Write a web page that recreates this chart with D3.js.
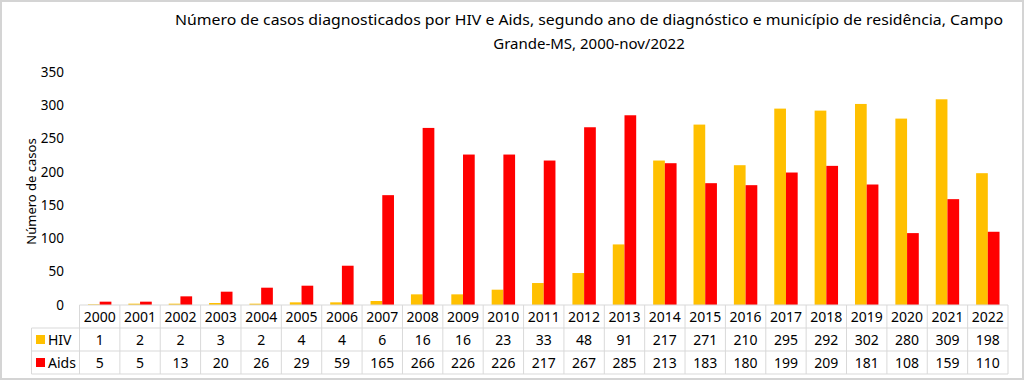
<!DOCTYPE html>
<html>
<head>
<meta charset="utf-8">
<script src="https://cdn.jsdelivr.net/npm/d3@7"></script>
<style>
  body { margin: 0; background: #fff; }
  svg { display: block; font-family: "Noto Sans", sans-serif; }
</style>
</head>
<body>
<svg id="chart" width="1024" height="381"></svg>
<script>
var years = ["2000","2001","2002","2003","2004","2005","2006","2007","2008","2009","2010","2011",
             "2012","2013","2014","2015","2016","2017","2018","2019","2020","2021","2022"];
var hiv  = [1, 2, 2, 3, 2, 4, 4, 6, 16, 16, 23, 33, 48, 91, 217, 271, 210, 295, 292, 302, 280, 309, 198];
var aids = [5, 5, 13, 20, 26, 29, 59, 165, 266, 226, 226, 217, 267, 285, 213, 183, 180, 199, 209, 181, 108, 159, 110];
var seriesNames = ["HIV", "Aids"];
var seriesColors = ["#FFC000", "#FF0000"];
var yTicks = [0, 50, 100, 150, 200, 250, 300, 350];
var titleLines = ["Número de casos diagnosticados por HIV e Aids, segundo ano de diagnóstico e município de residência, Campo",
                  "Grande-MS, 2000-nov/2022"];

var svg = d3.select("#chart"),
    width = +svg.attr("width"),
    height = +svg.attr("height");

// outer frame
svg.append("rect")
    .attr("x", 1).attr("y", 1)
    .attr("width", width - 2).attr("height", height - 3)
    .attr("fill", "#fff")
    .attr("stroke", "#d4d4d4")
    .attr("stroke-width", 2);

var plotLeft = 79.5, plotRight = 1008, plotTop = 72, plotBottom = 305;
var rowH = 23, legendLeft = 31.5;

var x = d3.scaleBand().domain(years).range([plotLeft, plotRight]).paddingInner(0).paddingOuter(0);
var inner = d3.scaleBand().domain(seriesNames)
    .range([0, x.bandwidth() * 0.58]);
var y = d3.scaleLinear().domain([0, 350]).range([plotBottom, plotTop]);

// title
svg.append("g").selectAll("text")
    .data(titleLines)
    .enter().append("text")
    .attr("x", 589)
    .attr("y", function(d, i) { return 25 + i * 24; })
    .attr("text-anchor", "middle")
    .attr("font-size", 15)
    .attr("fill", "#000")
    .text(function(d) { return d; })
    .each(function(d, i) {
        if (i == 0) d3.select(this).attr("textLength", 828).attr("lengthAdjust", "spacingAndGlyphs");
    });

// y axis labels
svg.append("g").selectAll("text")
    .data(yTicks)
    .enter().append("text")
    .attr("x", 64)
    .attr("y", function(d) { return y(d); })
    .attr("dy", "0.35em")
    .attr("text-anchor", "end")
    .attr("font-size", 13.5)
    .attr("fill", "#000")
    .text(function(d) { return d; });

svg.append("text")
    .attr("transform", "translate(31," + ((plotTop + plotBottom) / 2 + 3) + ") rotate(-90)")
    .attr("text-anchor", "middle")
    .attr("dy", "0.35em")
    .attr("font-size", 13)
    .attr("fill", "#000")
    .text("Número de casos");

// bars
var data = years.map(function(yr, i) {
    return { year: yr, values: [ {name: "HIV", v: hiv[i]}, {name: "Aids", v: aids[i]} ] };
});
var groupOffset = (x.bandwidth() - inner.range()[1]) / 2;

var groups = svg.append("g").selectAll("g")
    .data(data)
    .enter().append("g")
    .attr("transform", function(d) { return "translate(" + (x(d.year) + groupOffset) + ",0)"; });

groups.selectAll("rect")
    .data(function(d) { return d.values; })
    .enter().append("rect")
    .attr("x", function(d) { return inner(d.name); })
    .attr("width", inner.bandwidth())
    .attr("y", function(d) { return y(d.v); })
    .attr("height", function(d) { return y(0) - y(d.v); })
    .attr("fill", function(d, i) { return seriesColors[i]; });

// data table
var table = svg.append("g").attr("stroke", "#d9d9d9").attr("stroke-width", 1).attr("fill", "none");
table.append("line").attr("x1", plotLeft).attr("x2", plotRight).attr("y1", plotBottom).attr("y2", plotBottom);
[1, 2, 3].forEach(function(r) {
    table.append("line").attr("x1", legendLeft).attr("x2", plotRight)
        .attr("y1", plotBottom + r * rowH).attr("y2", plotBottom + r * rowH);
});
table.append("line").attr("x1", legendLeft).attr("x2", legendLeft)
    .attr("y1", plotBottom + rowH).attr("y2", plotBottom + 3 * rowH);
years.forEach(function(yr) {
    table.append("line").attr("x1", x(yr)).attr("x2", x(yr))
        .attr("y1", plotBottom).attr("y2", plotBottom + 3 * rowH);
});
table.append("line").attr("x1", plotRight).attr("x2", plotRight)
    .attr("y1", plotBottom).attr("y2", plotBottom + 3 * rowH);

var cellText = svg.append("g").attr("font-size", 14).attr("fill", "#000").attr("text-anchor", "middle");
var rows = [years, hiv, aids];
rows.forEach(function(row, r) {
    cellText.selectAll(null)
        .data(row)
        .enter().append("text")
        .attr("x", function(d, i) { return x(years[i]) + x.bandwidth() / 2; })
        .attr("y", plotBottom + r * rowH + rowH / 2)
        .attr("dy", "0.36em")
        .text(function(d) { return d; });
});

// legend keys in table
seriesNames.forEach(function(name, i) {
    var cy = plotBottom + (i + 1) * rowH + rowH / 2;
    svg.append("rect")
        .attr("x", 36).attr("y", cy - 4.5)
        .attr("width", 9).attr("height", 9)
        .attr("fill", seriesColors[i]);
    svg.append("text")
        .attr("x", 48).attr("y", cy).attr("dy", "0.36em")
        .attr("font-size", 14).attr("fill", "#000")
        .text(name);
});
</script>
</body>
</html>
